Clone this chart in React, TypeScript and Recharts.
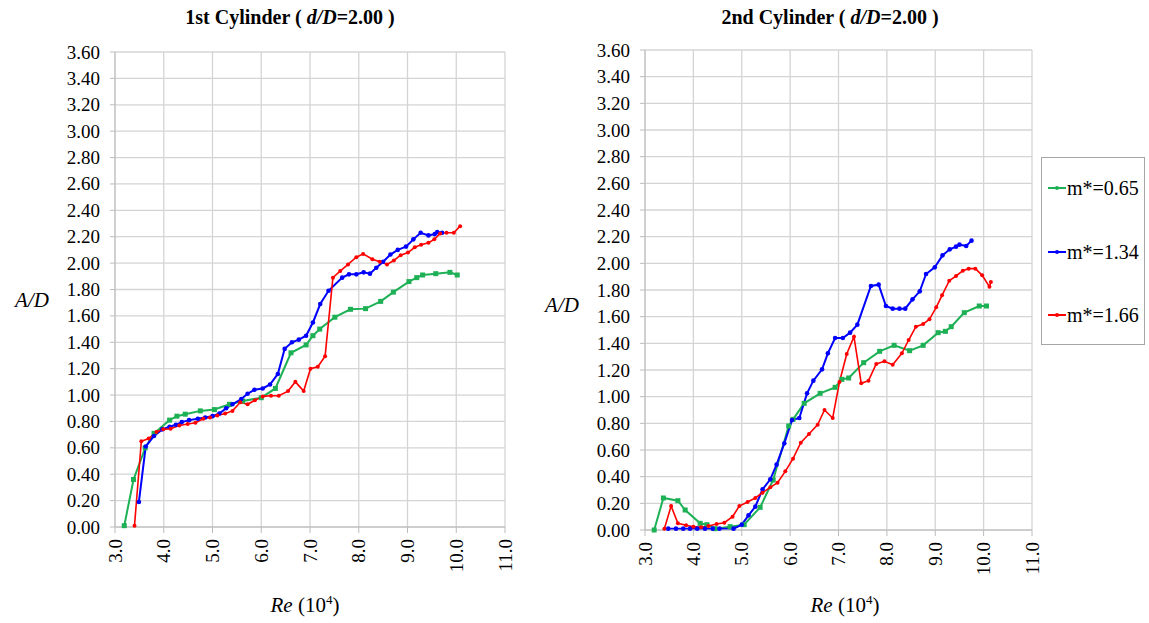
import React from "react";
import { CartesianGrid, Line, LineChart, XAxis, YAxis } from "recharts";

// Re (10^4) and A/D, 1st cylinder
const green1Re = [3.19, 3.38, 3.62, 3.8, 4.12, 4.27, 4.44, 4.75, 5.04, 5.35, 5.62, 6.0, 6.29, 6.61, 6.92, 7.06, 7.2, 7.51, 7.83, 8.14, 8.45, 8.71, 9.03, 9.19, 9.31, 9.58, 9.87, 10.02];
const green1AD = [0.01, 0.36, 0.6, 0.71, 0.81, 0.84, 0.855, 0.88, 0.89, 0.93, 0.955, 0.98, 1.05, 1.32, 1.38, 1.45, 1.5, 1.59, 1.65, 1.655, 1.71, 1.78, 1.86, 1.89, 1.91, 1.92, 1.93, 1.91];

const blue1Re = [3.49, 3.63, 3.8, 3.97, 4.12, 4.25, 4.37, 4.52, 4.7, 4.85, 5.0, 5.14, 5.28, 5.41, 5.59, 5.72, 5.86, 6.03, 6.18, 6.34, 6.48, 6.63, 6.77, 6.92, 7.06, 7.21, 7.38, 7.66, 7.8, 7.95, 8.1, 8.23, 8.36, 8.5, 8.65, 8.8, 8.97, 9.12, 9.27, 9.43, 9.56, 9.61, 9.71];
const blue1AD = [0.19, 0.61, 0.69, 0.74, 0.76, 0.775, 0.795, 0.81, 0.82, 0.83, 0.84, 0.86, 0.9, 0.93, 0.97, 1.01, 1.04, 1.05, 1.08, 1.16, 1.35, 1.4, 1.42, 1.45, 1.55, 1.69, 1.79, 1.89, 1.915, 1.915, 1.93, 1.92, 1.965, 2.01, 2.065, 2.1, 2.125, 2.18, 2.23, 2.21, 2.22, 2.235, 2.23];

const red1Re = [3.4, 3.54, 3.69, 3.85, 3.99, 4.14, 4.32, 4.49, 4.65, 4.81, 4.95, 5.1, 5.26, 5.41, 5.57, 5.72, 5.87, 6.03, 6.2, 6.36, 6.55, 6.7, 6.87, 7.01, 7.16, 7.31, 7.47, 7.62, 7.78, 7.95, 8.09, 8.28, 8.43, 8.58, 8.72, 8.86, 9.01, 9.15, 9.28, 9.43, 9.55, 9.67, 9.8, 9.95, 10.08];
const red1AD = [0.01, 0.65, 0.67, 0.72, 0.74, 0.745, 0.77, 0.78, 0.79, 0.82, 0.83, 0.845, 0.86, 0.88, 0.945, 0.93, 0.96, 0.99, 0.995, 0.995, 1.03, 1.1, 1.03, 1.2, 1.215, 1.295, 1.89, 1.94, 1.99, 2.045, 2.07, 2.03, 2.01, 1.99, 2.02, 2.06, 2.08, 2.12, 2.14, 2.155, 2.18, 2.225, 2.23, 2.23, 2.28];

// 2nd cylinder
const green2Re = [3.19, 3.38, 3.68, 3.83, 4.14, 4.28, 4.45, 4.76, 5.05, 5.38, 5.65, 5.97, 6.06, 6.29, 6.62, 6.93, 7.07, 7.21, 7.52, 7.85, 8.15, 8.47, 8.75, 9.06, 9.21, 9.33, 9.6, 9.91, 10.06];
const green2AD = [0.0, 0.24, 0.22, 0.15, 0.05, 0.04, 0.01, 0.025, 0.04, 0.17, 0.375, 0.78, 0.83, 0.95, 1.025, 1.07, 1.13, 1.14, 1.255, 1.34, 1.385, 1.345, 1.385, 1.48, 1.49, 1.525, 1.63, 1.68, 1.68];

const blue2Re = [3.48, 3.64, 3.79, 3.93, 4.08, 4.24, 4.4, 4.54, 4.83, 5.0, 5.14, 5.28, 5.43, 5.59, 5.72, 5.88, 6.04, 6.19, 6.35, 6.48, 6.66, 6.78, 6.93, 7.09, 7.24, 7.39, 7.67, 7.83, 7.98, 8.12, 8.26, 8.38, 8.53, 8.68, 8.81, 8.99, 9.15, 9.3, 9.43, 9.5, 9.64, 9.75];
const blue2AD = [0.01, 0.01, 0.01, 0.01, 0.01, 0.01, 0.01, 0.01, 0.01, 0.04, 0.11, 0.175, 0.305, 0.38, 0.49, 0.65, 0.825, 0.84, 1.025, 1.12, 1.205, 1.325, 1.44, 1.44, 1.48, 1.54, 1.83, 1.84, 1.68, 1.66, 1.66, 1.66, 1.73, 1.79, 1.92, 1.97, 2.06, 2.105, 2.125, 2.14, 2.13, 2.17];

const red2Re = [3.4, 3.54, 3.68, 3.85, 4.0, 4.16, 4.31, 4.48, 4.64, 4.81, 4.95, 5.12, 5.28, 5.43, 5.59, 5.74, 5.9, 6.06, 6.22, 6.39, 6.57, 6.71, 6.88, 7.02, 7.17, 7.32, 7.47, 7.62, 7.78, 7.95, 8.12, 8.31, 8.45, 8.6, 8.75, 8.88, 9.02, 9.14, 9.29, 9.43, 9.57, 9.69, 9.83, 9.97, 10.12, 10.15];
const red2AD = [0.01, 0.18, 0.05, 0.035, 0.025, 0.02, 0.03, 0.045, 0.055, 0.1, 0.18, 0.21, 0.24, 0.28, 0.32, 0.355, 0.44, 0.535, 0.655, 0.72, 0.79, 0.9, 0.84, 1.11, 1.32, 1.45, 1.1, 1.12, 1.245, 1.265, 1.24, 1.325, 1.425, 1.525, 1.545, 1.58, 1.67, 1.76, 1.87, 1.905, 1.945, 1.96, 1.96, 1.91, 1.825, 1.86];

const xTicks = [3, 4, 5, 6, 7, 8, 9, 10, 11];
const yTicks = [0, 0.2, 0.4, 0.6, 0.8, 1.0, 1.2, 1.4, 1.6, 1.8, 2.0, 2.2, 2.4, 2.6, 2.8, 3.0, 3.2, 3.4, 3.6];
const legendNames = ["m*=0.65", "m*=1.34", "m*=1.66"];
const colors = ["#1db055", "#0000ff", "#ff0000"];

const serif = "Liberation Serif, Tinos, Times New Roman, DejaVu Serif, serif";

const zip = (xs: number[], ys: number[]) => xs.map((re, i) => ({ re, ad: ys[i] }));

const SquareDot = (props: any) => {
    const { cx, cy, index } = props;
    if (cx == null || cy == null) return null;
    return <rect key={`sq-${index}`} x={cx - 2.5} y={cy - 2.5} width={5} height={5} fill={colors[0]} />;
};

const XTick = ({ x, y, payload }: any) => (
    <text
        transform={`translate(${x},${y + 4}) rotate(-90)`}
        textAnchor="end"
        dominantBaseline="central"
        fontSize={19}
        style={{ fontFamily: serif }}
        fill="#000"
    >
        {payload.value.toFixed(1)}
    </text>
);

const YTick = ({ x, y, payload }: any) => (
    <text x={x} y={y} textAnchor="end" dominantBaseline="central" fontSize={19} style={{ fontFamily: serif }} fill="#000">
        {payload.value.toFixed(2)}
    </text>
);

const Panel = ({ left, width, yw, mr, mt, plotBottom, series }: any) => {
    const xh = 80;
    return (
        <div style={{ position: "absolute", left, top: 0 }}>
            <LineChart
                width={width}
                height={623}
                margin={{ top: mt, right: mr, left: 0, bottom: 623 - plotBottom - xh }}
            >
                <CartesianGrid stroke="#d4d4d4" strokeWidth={1.3} verticalValues={xTicks} horizontalValues={yTicks} />
                <XAxis
                    type="number"
                    dataKey="re"
                    domain={[3, 11]}
                    ticks={xTicks}
                    height={xh}
                    tick={<XTick />}
                    tickSize={6}
                    stroke="#bcbcbc"
                    interval={0}
                    allowDataOverflow
                />
                <YAxis
                    type="number"
                    dataKey="ad"
                    domain={[0, 3.6]}
                    ticks={yTicks}
                    width={yw}
                    tickSize={5}
                    tickMargin={10}
                    interval={0}
                    stroke="#bcbcbc"
                    tick={<YTick />}
                />
                <Line data={series[0]} dataKey="ad" stroke={colors[0]} strokeWidth={2} dot={<SquareDot />} isAnimationActive={false} />
                <Line data={series[1]} dataKey="ad" stroke={colors[1]} strokeWidth={2} dot={{ r: 2.3, fill: colors[1], stroke: "none" }} isAnimationActive={false} />
                <Line data={series[2]} dataKey="ad" stroke={colors[2]} strokeWidth={1.6} dot={{ r: 2, fill: colors[2], stroke: "none" }} isAnimationActive={false} />
            </LineChart>
        </div>
    );
};

const Title = ({ cx, nth }: any) => (
    <div style={{ position: "absolute", left: cx - 200, width: 400, top: 6, textAlign: "center", fontFamily: serif, fontWeight: "bold", fontSize: 20 }}>
        {nth} Cylinder ( <i>d/D</i>=2.00 )
    </div>
);

const YLabel = ({ cx, cy }: any) => (
    <div style={{ position: "absolute", left: cx - 30, width: 60, top: cy - 12, textAlign: "center", fontFamily: serif, fontStyle: "italic", fontSize: 21 }}>
        A/D
    </div>
);

const XLabel = ({ cx }: any) => (
    <div style={{ position: "absolute", left: cx - 60, width: 120, top: 592, textAlign: "center", fontFamily: serif, fontSize: 21 }}>
        <i>Re</i> (10<sup style={{ fontSize: 13 }}>4</sup>)
    </div>
);

export default function App() {
    const s1 = [zip(green1Re, green1AD), zip(blue1Re, blue1AD), zip(red1Re, red1AD)];
    const s2 = [zip(green2Re, green2AD), zip(blue2Re, blue2AD), zip(red2Re, red2AD)];
    const legendY = [188, 252, 315];
    return (
        <div style={{ position: "absolute", left: 0, top: 0, width: 1149, height: 623, background: "#fff", overflow: "hidden", fontFamily: serif }}>
            <Panel left={0} width={560} yw={115} mr={55} mt={52} plotBottom={527} series={s1} />
            <Panel left={530} width={530} yw={115} mr={28} mt={50} plotBottom={530} series={s2} />
            <Title cx={290} nth="1st" />
            <Title cx={830} nth="2nd" />
            <YLabel cx={32} cy={300} />
            <YLabel cx={562} cy={305} />
            <XLabel cx={305} />
            <XLabel cx={845} />
            <div style={{ position: "absolute", left: 1041, top: 157, width: 104, height: 188, border: "1px solid #a6a6a6", boxSizing: "border-box" }} />
            {legendNames.map((name, i) => (
                <div key={name} style={{ position: "absolute", left: 1048, top: legendY[i] - 12, height: 24, display: "flex", alignItems: "center", fontFamily: serif, fontSize: 20 }}>
                    <svg width={18} height={6} style={{ marginRight: 1 }}>
                        <line x1={0} y1={3} x2={18} y2={3} stroke={colors[i]} strokeWidth={2} />
                        <circle cx={9} cy={3} r={2} fill={colors[i]} />
                    </svg>
                    {name}
                </div>
            ))}
        </div>
    );
}
